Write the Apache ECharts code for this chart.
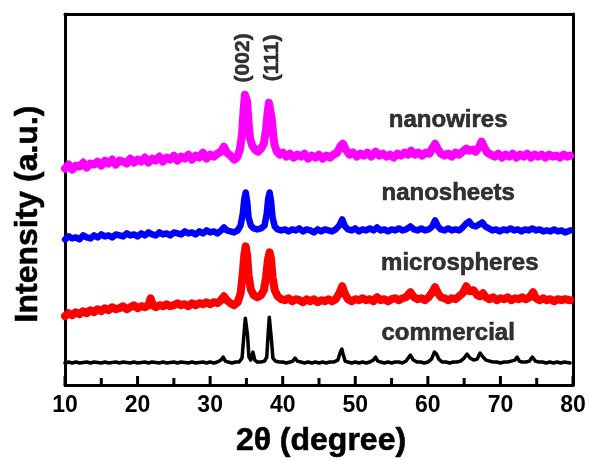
<!DOCTYPE html>
<html>
<head>
<meta charset="utf-8">
<script src="https://cdn.jsdelivr.net/npm/echarts@6/dist/echarts.min.js"></script>
<style>html,body{margin:0;padding:0;background:#fff}#c{width:589px;height:460px}</style>
</head>
<body>
<div id="c"></div>
<script>
// X-ray diffraction patterns, [2theta (deg), intensity (a.u., offset)]
var nanowires = [[10,217],[10.5,221],[11,216],[11.5,220],[12,219],[12.5,223],[13,218],[13.5,222],[14,221],[14.5,224],[15,220],[15.5,225],[16,222],[16.5,226],[17,221],[17.5,225],[18,224],[18.5,222],[19,227],[19.5,223],[20,226],[20.5,224],[21,228],[21.5,223],[22,227],[22.5,225],[23,229],[23.5,224],[24,228],[24.5,226],[25,230],[25.5,225],[26,229],[26.5,227],[27,231],[27.5,226],[28,230],[28.5,228],[29,233],[29.5,227],[30,231],[30.5,229],[31,232],[31.5,234],[31.9,239],[32.3,233],[32.8,230],[33.3,226],[33.7,228],[34.1,236],[34.4,252],[34.6,275],[34.8,291],[34.95,293],[35.1,284],[35.3,262],[35.5,247],[35.8,240],[36.2,236],[36.6,234],[37,237],[37.4,242],[37.7,256],[37.9,272],[38.1,283],[38.3,281],[38.5,266],[38.7,250],[38.9,240],[39.2,234],[39.6,231],[40,233],[40.5,229],[41,232],[41.5,228],[42,231],[42.5,229],[43,232],[43.5,227],[44,230],[44.5,228],[45,231],[45.5,227],[46,230],[46.5,228],[47,231],[47.5,233],[48,240],[48.3,242],[48.7,236],[49.2,231],[49.7,233],[50.2,229],[50.7,232],[51.2,230],[51.7,233],[52.2,229],[52.8,234],[53.3,230],[53.8,232],[54.3,229],[54.8,231],[55.3,228],[55.8,232],[56.3,230],[56.8,233],[57.3,231],[57.7,235],[58.2,231],[58.7,233],[59.2,230],[59.7,233],[60.2,232],[60.6,237],[61,242],[61.4,236],[61.8,232],[62.3,230],[62.8,232],[63.3,229],[63.8,233],[64.3,231],[64.8,234],[65.3,237],[65.7,235],[66.2,236],[66.6,234],[67,238],[67.4,244],[67.8,238],[68.2,233],[68.7,231],[69.2,229],[69.7,232],[70.2,228],[70.7,231],[71.2,229],[71.7,232],[72.2,228],[72.7,231],[73.2,229],[73.7,232],[74.2,228],[74.7,231],[75.2,229],[75.7,231],[76.2,228],[76.7,231],[77.2,229],[77.7,230],[78.2,228],[78.7,231],[79.2,229],[79.6,230]];
var nanosheets = [[10,146],[10.5,149],[11,147],[11.5,148],[12,146],[12.5,150],[13,148],[13.5,147],[14,150],[14.5,148],[15,151],[15.5,149],[16,150],[16.5,148],[17,151],[17.5,150],[18,149],[18.5,152],[19,150],[19.5,151],[20,149],[20.5,152],[21,150],[21.5,153],[22,151],[22.5,150],[23,153],[23.5,151],[24,152],[24.5,150],[25,153],[25.5,152],[26,151],[26.5,154],[27,152],[27.5,153],[28,151],[28.5,154],[29,152],[29.5,155],[30,153],[30.5,154],[31,152],[31.5,155],[31.9,158],[32.3,155],[32.8,154],[33.3,153],[33.8,155],[34.2,160],[34.5,172],[34.7,186],[34.9,193],[35.1,184],[35.3,168],[35.6,160],[36,157],[36.5,156],[37,157],[37.5,160],[37.8,172],[38,187],[38.2,193],[38.4,184],[38.6,168],[38.9,159],[39.3,156],[39.8,155],[40.3,156],[40.8,154],[41.3,156],[41.8,155],[42.3,157],[42.8,154],[43.3,156],[43.8,155],[44.3,153],[44.8,156],[45.3,154],[45.8,156],[46.3,155],[46.8,154],[47.3,156],[47.8,160],[48.2,166],[48.6,159],[49,156],[49.5,155],[50,157],[50.5,154],[51,156],[51.5,155],[52,157],[52.5,155],[53,158],[53.5,155],[54,156],[54.5,154],[55,156],[55.5,155],[56,157],[56.5,155],[57,156],[57.6,159],[58.1,156],[58.6,155],[59.1,157],[59.6,155],[60.1,156],[60.6,159],[61,165],[61.4,159],[61.8,156],[62.3,155],[62.8,157],[63.3,155],[63.8,156],[64.3,155],[64.8,158],[65.3,162],[65.7,164],[66.1,160],[66.6,159],[67.1,161],[67.5,163],[67.9,159],[68.4,157],[68.9,155],[69.4,156],[69.9,154],[70.4,156],[70.9,155],[71.4,157],[71.9,155],[72.4,156],[72.9,154],[73.4,156],[73.9,155],[74.4,157],[74.9,155],[75.4,156],[75.9,154],[76.4,155],[76.9,154],[77.4,156],[77.9,154],[78.4,155],[78.9,153],[79.6,155]];
var microspheres = [[10,69],[10.5,72],[11,70],[11.5,73],[12,71],[12.5,74],[13,72],[13.5,75],[14,73],[14.5,76],[15,74],[15.5,77],[16,75],[16.5,78],[17,76],[17.5,77],[18,79],[18.5,76],[19,78],[19.5,80],[20,77],[20.5,79],[21,78],[21.5,80],[21.8,87],[22.1,80],[22.5,78],[23,80],[23.5,79],[24,81],[24.5,79],[25,80],[25.5,82],[26,80],[26.5,81],[27,79],[27.5,82],[28,80],[28.5,82],[29,81],[29.5,83],[30,81],[30.5,83],[31,82],[31.5,85],[31.9,89],[32.3,85],[32.8,82],[33.3,80],[33.8,83],[34.2,92],[34.5,112],[34.7,130],[34.9,139],[35.1,130],[35.3,110],[35.6,96],[36,90],[36.5,88],[37,90],[37.4,95],[37.7,108],[37.95,125],[38.2,133],[38.4,126],[38.6,108],[38.9,95],[39.3,89],[39.8,86],[40.3,85],[40.8,87],[41.3,84],[41.8,86],[42.3,85],[42.8,83],[43.3,86],[43.8,84],[44.3,86],[44.8,83],[45.3,85],[45.8,84],[46.3,86],[46.8,84],[47.3,86],[47.8,92],[48.2,99],[48.6,91],[49,86],[49.5,84],[50,86],[50.5,85],[51,87],[51.5,85],[52,86],[52.5,84],[53,88],[53.5,85],[54,86],[54.5,84],[55,86],[55.5,87],[56,85],[56.5,87],[57,88],[57.6,93],[58.1,88],[58.6,86],[59.1,87],[59.6,85],[60.1,88],[60.6,93],[61,98],[61.4,92],[61.8,88],[62.3,87],[62.8,85],[63.3,87],[63.8,86],[64.3,89],[64.8,92],[65.3,99],[65.7,94],[66.3,95],[66.8,90],[67.2,89],[67.6,92],[68,88],[68.5,86],[69,88],[69.5,85],[70,87],[70.5,86],[71,88],[71.5,85],[72,87],[72.5,86],[73,88],[73.5,86],[74,88],[74.5,93],[74.9,87],[75.4,85],[75.9,87],[76.4,85],[76.9,86],[77.4,84],[77.9,86],[78.4,85],[78.9,86],[79.6,85]];
var commercial = [[10,22],[10.5,23],[11,22],[11.5,23],[12,22],[13,23],[13.5,22],[14,23],[15,22],[15.5,23],[16,22],[17,23],[17.5,22],[18,23],[19,22],[19.5,23],[20,22],[21,23],[21.5,22],[22,23],[23,22],[23.5,23],[24,22],[25,23],[25.5,22],[26,23],[27,22],[27.5,23],[28,22],[29,23],[29.5,22],[30,23],[30.5,22],[31,23],[31.5,25],[31.8,28],[32.1,24],[32.5,23],[33,22],[33.5,23],[34,23],[34.4,27],[34.65,50],[34.85,67],[35.0,68],[35.15,50],[35.35,28],[35.6,25],[35.9,33],[36.15,25],[36.5,23],[37,23],[37.5,24],[37.8,28],[37.98,50],[38.15,68],[38.3,66],[38.45,45],[38.65,27],[39,24],[39.5,23],[40,23],[40.5,22],[41,23],[41.4,24],[41.7,27],[42,24],[42.5,23],[43,22],[43.5,23],[44,22],[44.5,23],[45,22],[45.5,23],[46,22],[46.5,23],[47,23],[47.6,25],[47.95,33],[48.15,36],[48.35,30],[48.6,24],[49,23],[49.5,22],[50,23],[50.5,22],[51,23],[51.5,22],[52,23],[52.5,25],[52.8,28],[53.1,24],[53.5,23],[54,22],[54.5,23],[55,22],[55.5,23],[56,23],[56.5,22],[57,24],[57.6,30],[58,25],[58.5,23],[59,23],[59.5,22],[60,23],[60.5,26],[60.9,33],[61.2,31],[61.5,26],[62,23],[62.5,23],[63,22],[63.5,23],[64,23],[64.5,24],[65,27],[65.4,31],[65.8,27],[66.3,25],[66.8,26],[67.2,32],[67.6,28],[68,25],[68.5,24],[69,23],[69.5,23],[70,22],[70.5,23],[71,23],[71.5,24],[72,25],[72.3,28],[72.6,24],[73,23],[73.5,23],[74,24],[74.4,28],[74.8,24],[75.3,23],[75.8,23],[76.3,22],[76.8,23],[77.3,22],[77.8,23],[78.3,22],[78.8,23],[79.6,22]];
var sampleLabels = [[62.8,265,'nanowires'],[62.8,192,'nanosheets'],[64.4,122,'microspheres'],[62.8,52,'commercial']];
var peakLabels = [[34.5,328,'(002)'],[38.5,328,'(111)']];
var xTicks = [10,20,30,40,50,60,70,80];
var xMinorTicks = [15,25,35,45,55,65,75];
var xTitle = '2\u03b8 (degree)';
var yTitle = 'Intensity (a.u.)';

var FONT = '"Liberation Sans", Arial, sans-serif';
var chart = echarts.init(document.getElementById('c'), null, {renderer:'canvas'});
function line(name, data, color, w){
  return {name:name, type:'line', data:data, showSymbol:false, symbol:'none', smooth:false,
    lineStyle:{color:color, width:w, join:'round', cap:'round'}, itemStyle:{color:color}, z:2, animation:false};
}
var yMin = 0, yMax = 372;
var xMin = xTicks[0], xMax = xTicks[xTicks.length-1];
var titles = [
  {type:'text', x:321, y:441, z:10, style:{text:xTitle, font:'bold 32px '+FONT, fill:'#000', stroke:'#000', lineWidth:0.6, textAlign:'center', textVerticalAlign:'middle'}},
  {type:'text', x:28, y:214, z:10, rotation:Math.PI/2, style:{text:yTitle, font:'bold 32px '+FONT, fill:'#000', stroke:'#000', lineWidth:0.6, textAlign:'center', textVerticalAlign:'middle'}}
];
chart.setOption({
  animation:false,
  backgroundColor:'#fff',
  grid:{left:65, right:16, top:14, bottom:75, containLabel:false},
  xAxis:[
    {type:'value', position:'bottom', min:xMin, max:xMax, interval:10,
     axisLine:{show:true, onZero:false, lineStyle:{color:'#000', width:3}},
     axisTick:{show:false}, minorTick:{show:false},
     splitLine:{show:false}, minorSplitLine:{show:false},
     axisLabel:{show:true, color:'#000', fontFamily:FONT, fontWeight:'bold', fontSize:23, margin:9}},
    {type:'value', position:'top', min:xMin, max:xMax, interval:10,
     axisLine:{show:true, onZero:false, lineStyle:{color:'#000', width:3}},
     axisTick:{show:false}, axisLabel:{show:false}, splitLine:{show:false}}
  ],
  yAxis:[
    {type:'value', position:'left', min:yMin, max:yMax,
     axisLine:{show:true, onZero:false, lineStyle:{color:'#000', width:3}},
     axisTick:{show:false}, axisLabel:{show:false}, splitLine:{show:false}},
    {type:'value', position:'right', min:yMin, max:yMax,
     axisLine:{show:true, onZero:false, lineStyle:{color:'#000', width:3}},
     axisTick:{show:false}, axisLabel:{show:false}, splitLine:{show:false}}
  ],
  graphic:titles,
  series:[
    line('commercial', commercial, '#000000', 3.5),
    line('microspheres', microspheres, '#ff0000', 8),
    line('nanosheets', nanosheets, '#0000ff', 6.5),
    line('nanowires', nanowires, '#ff00ff', 8),
    {type:'scatter', data:sampleLabels, symbolSize:0, silent:true, z:5,
      label:{show:true, position:'inside', formatter:function(p){return p.data[2];}, color:'#000', textBorderColor:'#000', textBorderWidth:0.6, fontFamily:FONT, fontWeight:'bold', fontSize:24}},
    {type:'scatter', data:peakLabels, symbolSize:0, silent:true, z:5,
      label:{show:true, position:'inside', rotate:90, formatter:function(p){return p.data[2];}, color:'#000', textBorderColor:'#000', textBorderWidth:0.5, fontFamily:FONT, fontWeight:'bold', fontSize:21}}
  ]
});
// inward tick marks on the bottom axis, placed through the axis scale
var tickEls = [];
function addTicks(vals, len){
  vals.forEach(function(v){
    var p = chart.convertToPixel({xAxisIndex:0, yAxisIndex:0}, [v, yMin]);
    tickEls.push({type:'line', z:20, silent:true,
      shape:{x1:p[0], y1:p[1], x2:p[0], y2:p[1]-len},
      style:{stroke:'#000', lineWidth:3}});
  });
}
addTicks(xTicks, 9);
addTicks(xMinorTicks, 7);
chart.setOption({graphic:titles.concat(tickEls)}, {replaceMerge:['graphic']});
</script>
</body>
</html>
